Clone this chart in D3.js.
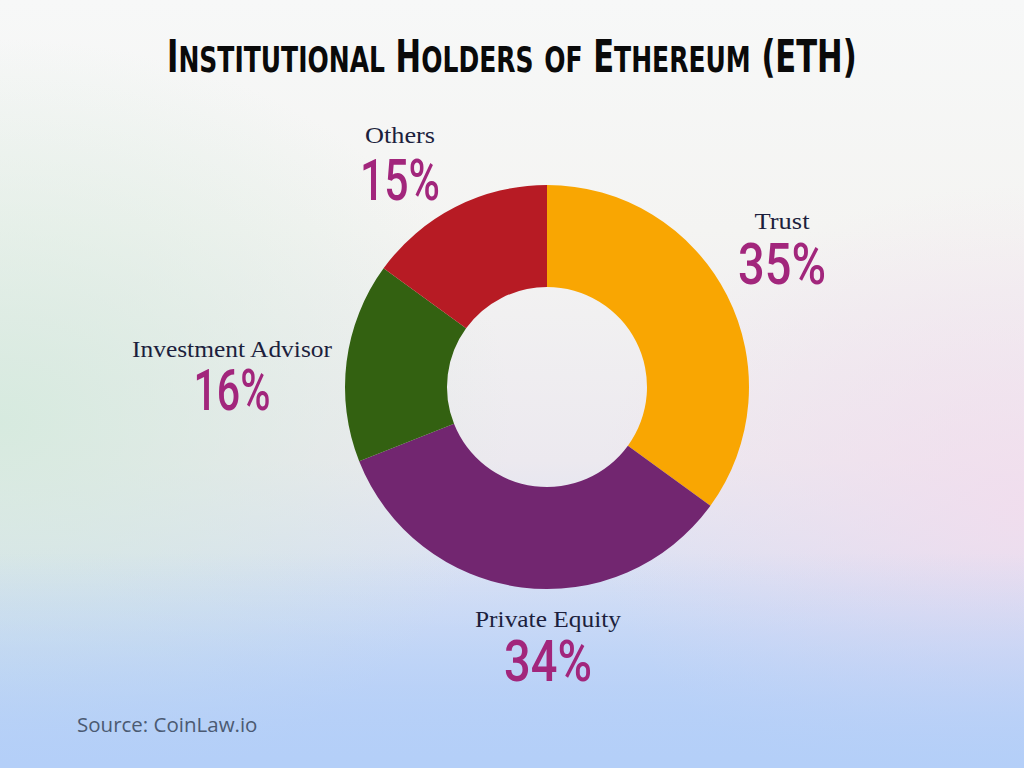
<!DOCTYPE html>
<html><head><meta charset="utf-8">
<script src="https://cdn.jsdelivr.net/npm/d3@7"></script>
<style>html,body{margin:0;padding:0;}svg{display:block;}</style>
</head><body>
<svg id="chart" width="1024" height="768"></svg>
<script>
const categories = ["Trust", "Private Equity", "Investment Advisor", "Others"];
const values = [35, 34, 16, 15];
const colors = ["#F9A602", "#722670", "#336111", "#B71B24"];
const title = "Institutional Holders of Ethereum (ETH)";
const source = "Source: CoinLaw.io";

const svg = d3.select("#chart");
const W = 1024, H = 768;
const defs = svg.append("defs");

// background gradients
const lg = defs.append("linearGradient").attr("id","bg").attr("x1",0).attr("y1",0).attr("x2",0).attr("y2",1);
[[0,"#f7f8f8"],[0.3,"#f4f4f2"],[0.6,"#ece9ef"],[0.8,"#d3def5"],[1,"#b3cef8"]].forEach(s=>lg.append("stop").attr("offset",s[0]).attr("stop-color",s[1]));
svg.append("rect").attr("width",W).attr("height",H).attr("fill","url(#bg)");
const rgL = defs.append("radialGradient").attr("id","gl").attr("cx",0).attr("cy",0.55).attr("r",0.5);
rgL.append("stop").attr("offset",0).attr("stop-color","#d4eadd").attr("stop-opacity",0.9);
rgL.append("stop").attr("offset",1).attr("stop-color","#d4eadd").attr("stop-opacity",0);
svg.append("rect").attr("width",W).attr("height",H).attr("fill","url(#gl)");
const rgR = defs.append("radialGradient").attr("id","gr").attr("cx",1).attr("cy",0.66).attr("r",0.42);
rgR.append("stop").attr("offset",0).attr("stop-color","#f2dced").attr("stop-opacity",0.85);
rgR.append("stop").attr("offset",1).attr("stop-color","#f2dced").attr("stop-opacity",0);
svg.append("rect").attr("width",W).attr("height",H).attr("fill","url(#gr)");
const lb = defs.append("linearGradient").attr("id","gb").attr("x1",0).attr("y1",0).attr("x2",0).attr("y2",1);
lb.append("stop").attr("offset",0.72).attr("stop-color","#b4cff8").attr("stop-opacity",0);
lb.append("stop").attr("offset",1).attr("stop-color","#b4cff8").attr("stop-opacity",1);
svg.append("rect").attr("width",W).attr("height",H).attr("fill","url(#gb)");

// title (manual small caps, scaled horizontally to fit)
const tg = svg.append("g");
const t = tg.append("text")
  .attr("x", 0).attr("y", 0).attr("text-anchor","start")
  .attr("font-family","'DejaVu Sans Condensed','DejaVu Sans',sans-serif")
  .attr("font-weight","bold")
  .attr("fill","#0a0a0a");
// group runs of same case into tspans
const runs = [];
title.split("").forEach(ch=>{
  const small = ch !== ch.toUpperCase();
  if (runs.length && runs[runs.length-1].small === small) runs[runs.length-1].s += ch;
  else runs.push({small, s: ch});
});
runs.forEach(r=>t.append("tspan").text(r.s.toUpperCase()).attr("font-size", r.small ? 36 : 44));
const natW = t.node().getComputedTextLength();
const sx = 690 / natW;
tg.attr("transform", `translate(${512 - 345},72) scale(${sx},1)`);

// donut
const cx = 547, cy = 387, rOuter = 202, rInner = 100;
const pie = d3.pie().sort(null).value(d=>d.v);
const arcs = pie(categories.map((c,i)=>({c, v: values[i], col: colors[i]})));
const arc = d3.arc().innerRadius(rInner).outerRadius(rOuter);
const g = svg.append("g").attr("transform",`translate(${cx},${cy})`);
g.selectAll("path").data(arcs).enter().append("path")
  .attr("d",arc).attr("fill",d=>d.data.col);

// labels: [centerX, labelBaseline, pctBaseline, pctWidth, labelWidth]
const labelPos = {
  "Trust": [782, 229, 284, 88, 55],
  "Private Equity": [548, 627, 681, 88, 146],
  "Investment Advisor": [232, 357, 410, 77, 200],
  "Others": [400, 143, 200, 80, 70]
};
arcs.forEach(d=>{
  const p = labelPos[d.data.c];
  svg.append("text").text(d.data.c)
    .attr("x",p[0]).attr("y",p[1]).attr("text-anchor","middle")
    .attr("font-family","'Liberation Serif','DejaVu Serif',serif")
    .attr("font-size",23).attr("fill","#1c1f3d")
    .attr("textLength",p[4]).attr("lengthAdjust","spacingAndGlyphs");
  svg.append("text").text(d.data.v + "%")
    .attr("x",p[0]).attr("y",p[2]).attr("text-anchor","middle")
    .attr("font-family","Roboto,'Open Sans',sans-serif")
    .attr("font-weight",500).attr("font-size",58)
    .attr("textLength",p[3]).attr("lengthAdjust","spacingAndGlyphs")
    .attr("fill","#a2267c");
});

svg.append("text").text(source)
  .attr("x",77).attr("y",732)
  .attr("font-family","'Open Sans',sans-serif")
  .attr("font-size",20.5).attr("fill","#4b5a72");
</script>
</body></html>
